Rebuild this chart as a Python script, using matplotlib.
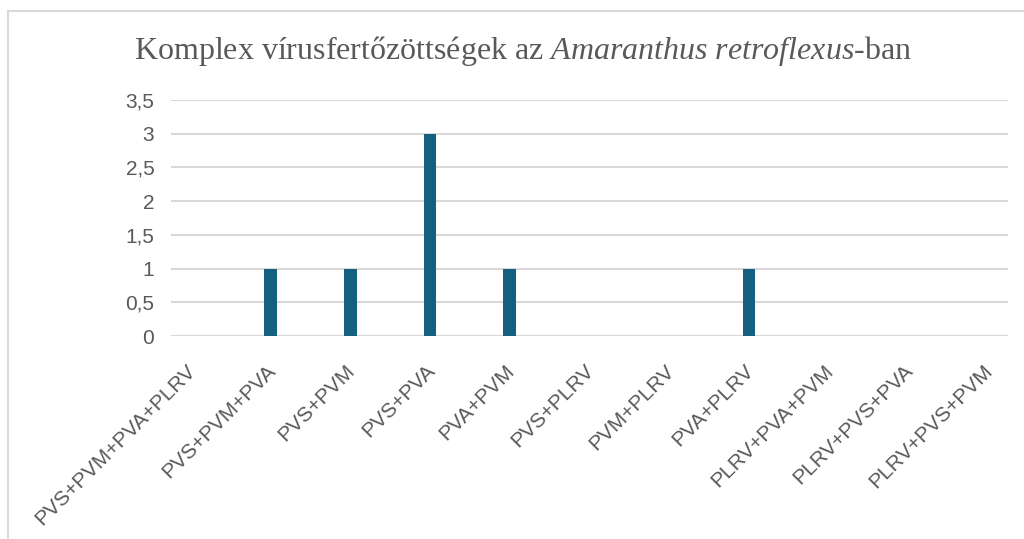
#!/usr/bin/env python3
# -*- coding: utf-8 -*-
import numpy as np
import matplotlib
matplotlib.use("Agg")
import matplotlib.pyplot as plt
import matplotlib.transforms as mtransforms
from matplotlib.lines import Line2D
from matplotlib.ticker import FuncFormatter

# kombinaciok es esetszamok
kombinaciok = [
    "PVS+PVM+PVA+PLRV",
    "PVS+PVM+PVA",
    "PVS+PVM",
    "PVS+PVA",
    "PVA+PVM",
    "PVS+PLRV",
    "PVM+PLRV",
    "PVA+PLRV",
    "PLRV+PVA+PVM",
    "PLRV+PVS+PVA",
    "PLRV+PVS+PVM",
]
esetek = [0, 1, 1, 3, 1, 0, 0, 1, 0, 0, 0]
y_ticks = [0, 0.5, 1, 1.5, 2, 2.5, 3, 3.5]

plt.rcParams["mathtext.fontset"] = "custom"
plt.rcParams["mathtext.rm"] = "Liberation Serif"
plt.rcParams["mathtext.it"] = "Liberation Serif:italic"

szurke = "#595959"
racs = "#d9d9d9"

fig = plt.figure(figsize=(10.24, 5.39), dpi=100)
ax = fig.add_axes([171 / 1024, 1 - 336 / 539, (1008 - 171) / 1024, (336 - 100) / 539])

x = np.arange(len(kombinaciok))
ax.bar(x, esetek, width=0.16, color="#16607f", zorder=3)

ax.set_xlim(-0.25, len(kombinaciok) - 0.75)
ax.set_ylim(0, 3.5)
ax.set_yticks(y_ticks)
ax.yaxis.set_major_formatter(FuncFormatter(lambda v, p: ("%g" % v).replace(".", ",")))
ax.grid(axis="y", color=racs, linewidth=1.5, zorder=0)
for s in ax.spines.values():
    s.set_visible(False)
ax.tick_params(axis="both", length=0, labelsize=15, labelcolor=szurke)
ax.tick_params(axis="y", pad=12)
ax.set_xticks(x)
ax.set_xticklabels(kombinaciok, rotation=45, ha="right", va="top",
                   rotation_mode="anchor", fontfamily="Liberation Sans")
for t in ax.get_yticklabels():
    t.set_fontfamily("Liberation Sans")
ax.tick_params(axis="x", pad=18)
# kicsit balra toljuk a cimkeket
eltolas = mtransforms.ScaledTranslation(-5 / 100, 0, fig.dpi_scale_trans)
for t in ax.get_xticklabels():
    t.set_transform(t.get_transform() + eltolas)

fig.text(0.511, 1 - 51 / 539,
         r"Komplex vírusfertőzöttségek az $\mathit{Amaranthus\ retroflexus}$-ban",
         ha="center", va="center", fontsize=23, color=szurke,
         fontfamily="Liberation Serif")

# keret
fig.add_artist(Line2D([8 / 1024, 8 / 1024], [0, 1 - 11 / 539], color=racs, lw=1.5))
fig.add_artist(Line2D([8 / 1024, 1], [1 - 11 / 539, 1 - 11 / 539], color=racs, lw=1.5))

plt.savefig("out.png", dpi=100)
